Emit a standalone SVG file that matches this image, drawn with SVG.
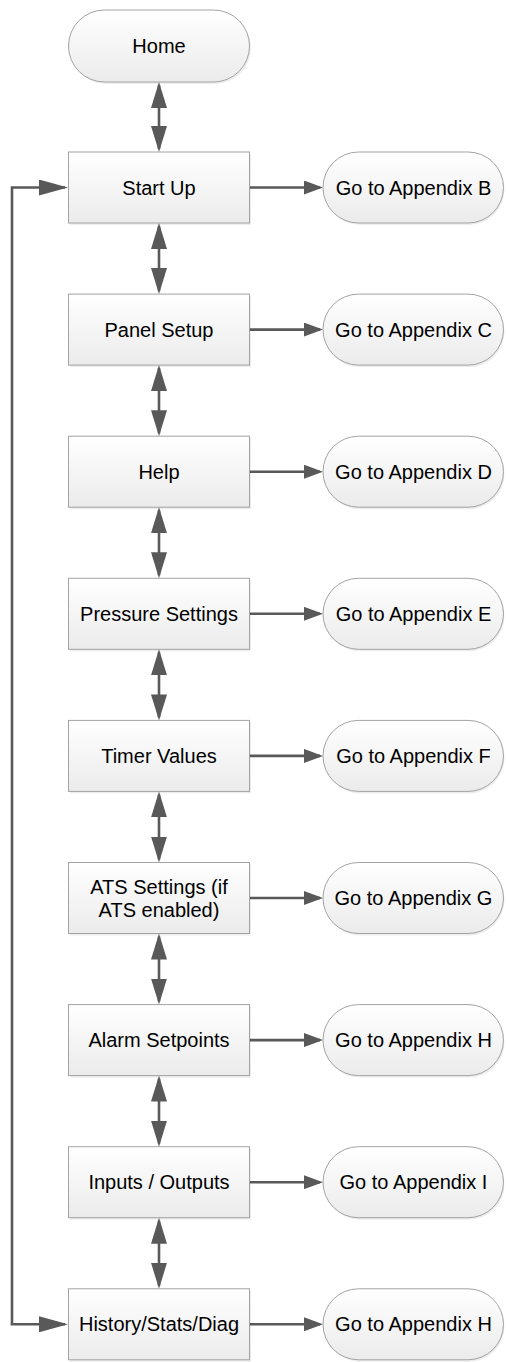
<svg xmlns="http://www.w3.org/2000/svg" width="506" height="1362" viewBox="0 0 506 1362">
<style>
.box{fill:url(#g);stroke:#a3a3a3;stroke-width:1}
.sh{fill:#000;opacity:0.07}
.t{font-family:"Liberation Sans",Arial,sans-serif;font-size:20px;fill:#000;text-anchor:middle}
.c{stroke:#595959;stroke-width:2.6;fill:none}
</style>
<defs>
<linearGradient id="g" x1="0" y1="0" x2="0" y2="1">
<stop offset="0" stop-color="#ffffff"/>
<stop offset="1" stop-color="#ebebeb"/>
</linearGradient>
<marker id="big" viewBox="0 0 26 16" markerUnits="userSpaceOnUse" markerWidth="26" markerHeight="16" refX="23" refY="8" orient="auto-start-reverse">
<path d="M0,0 L26,8 L0,16 z" fill="#595959"/>
</marker>
<marker id="loop" viewBox="0 0 29 16" markerUnits="userSpaceOnUse" markerWidth="29" markerHeight="16" refX="26" refY="8" orient="auto">
<path d="M0,0 L29,8 L0,16 z" fill="#595959"/>
</marker>
<marker id="sm" viewBox="0 0 19 14" markerUnits="userSpaceOnUse" markerWidth="19" markerHeight="14" refX="16" refY="7" orient="auto">
<path d="M0,0 L19,7 L0,14 z" fill="#595959"/>
</marker>
</defs>

<g id="connectors">
<line class="c" x1="159" y1="85" x2="159" y2="149" marker-start="url(#big)" marker-end="url(#big)"/>
<line class="c" x1="159" y1="226" x2="159" y2="291.1" marker-start="url(#big)" marker-end="url(#big)"/>
<line class="c" x1="159" y1="368.1" x2="159" y2="433.2" marker-start="url(#big)" marker-end="url(#big)"/>
<line class="c" x1="159" y1="510.2" x2="159" y2="575.3" marker-start="url(#big)" marker-end="url(#big)"/>
<line class="c" x1="159" y1="652.3" x2="159" y2="717.4" marker-start="url(#big)" marker-end="url(#big)"/>
<line class="c" x1="159" y1="794.4" x2="159" y2="859.5" marker-start="url(#big)" marker-end="url(#big)"/>
<line class="c" x1="159" y1="936.5" x2="159" y2="1001.6" marker-start="url(#big)" marker-end="url(#big)"/>
<line class="c" x1="159" y1="1078.6" x2="159" y2="1143.7" marker-start="url(#big)" marker-end="url(#big)"/>
<line class="c" x1="159" y1="1220.7" x2="159" y2="1285.8" marker-start="url(#big)" marker-end="url(#big)"/>
<line class="c" x1="250" y1="187.5" x2="320" y2="187.5" marker-end="url(#sm)"/>
<line class="c" x1="250" y1="329.6" x2="320" y2="329.6" marker-end="url(#sm)"/>
<line class="c" x1="250" y1="471.7" x2="320" y2="471.7" marker-end="url(#sm)"/>
<line class="c" x1="250" y1="613.8" x2="320" y2="613.8" marker-end="url(#sm)"/>
<line class="c" x1="250" y1="755.9" x2="320" y2="755.9" marker-end="url(#sm)"/>
<line class="c" x1="250" y1="898" x2="320" y2="898" marker-end="url(#sm)"/>
<line class="c" x1="250" y1="1040.1" x2="320" y2="1040.1" marker-end="url(#sm)"/>
<line class="c" x1="250" y1="1182.2" x2="320" y2="1182.2" marker-end="url(#sm)"/>
<line class="c" x1="250" y1="1324.3" x2="320" y2="1324.3" marker-end="url(#sm)"/>
<polyline class="c" points="12,1324.3 12,187.5 65,187.5" marker-end="url(#loop)"/>
<polyline class="c" points="12,1325.6 12,1324.3 65,1324.3" marker-end="url(#loop)"/>
</g>

<g id="home">
<rect class="sh" x="70" y="12" width="181" height="72" rx="36"/>
<rect class="box" x="68.5" y="10" width="181" height="72" rx="36"/>
<text class="t" x="159" y="53">Home</text>
</g>

<g id="start-up">
<rect class="sh" x="70" y="154" width="181" height="71"/>
<rect class="box" x="68.5" y="152" width="181" height="71"/>
<text class="t" x="159" y="194.5">Start Up</text>
</g>
<g id="panel-setup">
<rect class="sh" x="70" y="296.1" width="181" height="71"/>
<rect class="box" x="68.5" y="294.1" width="181" height="71"/>
<text class="t" x="159" y="336.6">Panel Setup</text>
</g>
<g id="help">
<rect class="sh" x="70" y="438.2" width="181" height="71"/>
<rect class="box" x="68.5" y="436.2" width="181" height="71"/>
<text class="t" x="159" y="478.7">Help</text>
</g>
<g id="pressure-settings">
<rect class="sh" x="70" y="580.3" width="181" height="71"/>
<rect class="box" x="68.5" y="578.3" width="181" height="71"/>
<text class="t" x="159" y="620.8">Pressure Settings</text>
</g>
<g id="timer-values">
<rect class="sh" x="70" y="722.4" width="181" height="71"/>
<rect class="box" x="68.5" y="720.4" width="181" height="71"/>
<text class="t" x="159" y="762.9">Timer Values</text>
</g>
<g id="ats-settings">
<rect class="sh" x="70" y="864.5" width="181" height="71"/>
<rect class="box" x="68.5" y="862.5" width="181" height="71"/>
<text class="t" x="159" y="893.5">ATS Settings (if</text>
<text class="t" x="159" y="917">ATS enabled)</text>
</g>
<g id="alarm-setpoints">
<rect class="sh" x="70" y="1006.6" width="181" height="71"/>
<rect class="box" x="68.5" y="1004.6" width="181" height="71"/>
<text class="t" x="159" y="1047.1">Alarm Setpoints</text>
</g>
<g id="inputs-outputs">
<rect class="sh" x="70" y="1148.7" width="181" height="71"/>
<rect class="box" x="68.5" y="1146.7" width="181" height="71"/>
<text class="t" x="159" y="1189.2">Inputs / Outputs</text>
</g>
<g id="history">
<rect class="sh" x="70" y="1290.8" width="181" height="71"/>
<rect class="box" x="68.5" y="1288.8" width="181" height="71"/>
<text class="t" x="159" y="1331.3">History/Stats/Diag</text>
</g>

<g id="appendix-b">
<rect class="sh" x="324.5" y="154" width="180" height="71" rx="35.5"/>
<rect class="box" x="323" y="152" width="180.5" height="71" rx="35.5"/>
<text class="t" x="413.5" y="194.5">Go to Appendix B</text>
</g>
<g id="appendix-c">
<rect class="sh" x="324.5" y="296.1" width="180" height="71" rx="35.5"/>
<rect class="box" x="323" y="294.1" width="180.5" height="71" rx="35.5"/>
<text class="t" x="413.5" y="336.6">Go to Appendix C</text>
</g>
<g id="appendix-d">
<rect class="sh" x="324.5" y="438.2" width="180" height="71" rx="35.5"/>
<rect class="box" x="323" y="436.2" width="180.5" height="71" rx="35.5"/>
<text class="t" x="413.5" y="478.7">Go to Appendix D</text>
</g>
<g id="appendix-e">
<rect class="sh" x="324.5" y="580.3" width="180" height="71" rx="35.5"/>
<rect class="box" x="323" y="578.3" width="180.5" height="71" rx="35.5"/>
<text class="t" x="413.5" y="620.8">Go to Appendix E</text>
</g>
<g id="appendix-f">
<rect class="sh" x="324.5" y="722.4" width="180" height="71" rx="35.5"/>
<rect class="box" x="323" y="720.4" width="180.5" height="71" rx="35.5"/>
<text class="t" x="413.5" y="762.9">Go to Appendix F</text>
</g>
<g id="appendix-g">
<rect class="sh" x="324.5" y="864.5" width="180" height="71" rx="35.5"/>
<rect class="box" x="323" y="862.5" width="180.5" height="71" rx="35.5"/>
<text class="t" x="413.5" y="905">Go to Appendix G</text>
</g>
<g id="appendix-h1">
<rect class="sh" x="324.5" y="1006.6" width="180" height="71" rx="35.5"/>
<rect class="box" x="323" y="1004.6" width="180.5" height="71" rx="35.5"/>
<text class="t" x="413.5" y="1047.1">Go to Appendix H</text>
</g>
<g id="appendix-i">
<rect class="sh" x="324.5" y="1148.7" width="180" height="71" rx="35.5"/>
<rect class="box" x="323" y="1146.7" width="180.5" height="71" rx="35.5"/>
<text class="t" x="413.5" y="1189.2">Go to Appendix I</text>
</g>
<g id="appendix-h2">
<rect class="sh" x="324.5" y="1290.8" width="180" height="71" rx="35.5"/>
<rect class="box" x="323" y="1288.8" width="180.5" height="71" rx="35.5"/>
<text class="t" x="413.5" y="1331.3">Go to Appendix H</text>
</g>
</svg>
